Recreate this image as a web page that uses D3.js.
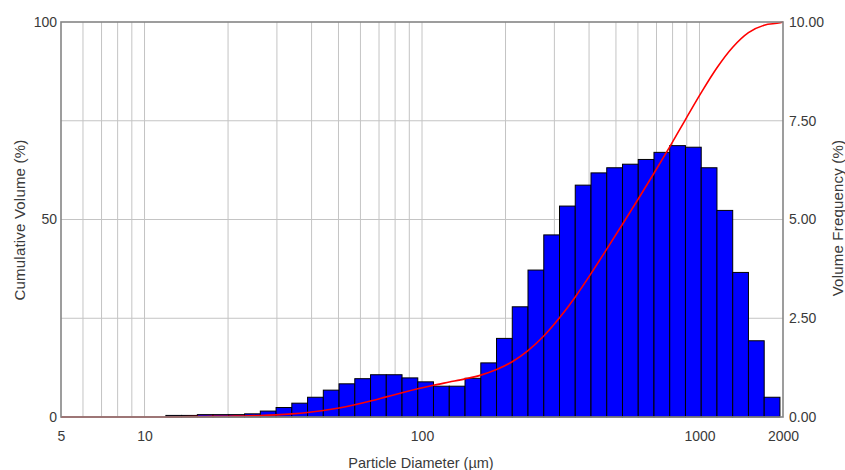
<!DOCTYPE html>
<html>
<head>
<meta charset="utf-8">
<script src="https://cdn.jsdelivr.net/npm/d3@7"></script>
<style>
  html, body { margin: 0; padding: 0; background: #fff; }
  svg { display: block; font-family: Arial, "Liberation Sans", sans-serif; }
</style>
</head>
<body>
<svg id="chart" width="845" height="470"></svg>
<script>
// ---- Data ----
// Channel edges, particle diameter in µm (40 edges -> 39 channels)
const binEdges = [11.94, 13.60, 15.50, 17.66, 20.13, 22.94, 26.14, 29.79, 33.95, 38.69,
  44.09, 50.24, 57.25, 65.24, 74.35, 84.73, 96.56, 110.0, 125.4, 142.9,
  162.9, 185.6, 211.5, 241.0, 274.7, 313.0, 356.7, 406.5, 463.2, 527.9,
  601.6, 685.5, 781.2, 890.3, 1014.6, 1156.2, 1317.6, 1501.5, 1711.1, 1950];
// Volume frequency (%) per channel
const volumeFrequency = [0.04, 0.04, 0.06, 0.06, 0.06, 0.08, 0.15, 0.24, 0.35, 0.50,
  0.68, 0.84, 0.97, 1.07, 1.07, 0.99, 0.89, 0.78, 0.78, 0.98,
  1.37, 1.99, 2.79, 3.72, 4.61, 5.34, 5.87, 6.18, 6.31, 6.40,
  6.52, 6.70, 6.87, 6.83, 6.31, 5.23, 3.66, 1.93, 0.50];
// Cumulative volume curve (%)
const cumDiameter = [5, 11.94, 13.60, 15.50, 17.66, 20.13, 22.94, 26.14, 29.79, 33.95, 38.69,
  44.09, 50.24, 57.25, 65.24, 74.35, 84.73, 96.56, 110.0, 125.4, 142.9,
  162.9, 185.6, 211.5, 241.0, 274.7, 313.0, 356.7, 406.5, 463.2, 527.9,
  601.6, 685.5, 781.2, 890.3, 1014.6, 1156.2, 1317.6, 1501.5, 1711.1, 1950, 2000];
const cumPercent = [0, 0, 0.05, 0.10, 0.15, 0.20, 0.27, 0.38, 0.55, 0.80, 1.15,
  1.65, 2.30, 3.10, 4.05, 5.10, 6.15, 7.15, 8.05, 8.85, 9.65,
  10.6, 12.0, 14.0, 16.8, 20.5, 25.1, 30.4, 36.3, 42.5, 48.8,
  55.2, 61.7, 68.4, 75.3, 82.1, 88.4, 93.6, 97.3, 99.2, 99.8, 100];

const xTickValues = [5, 10, 100, 1000, 2000];
const xGridValues = [6, 7, 8, 9, 10, 20, 30, 40, 50, 60, 70, 80, 90,
  100, 200, 300, 400, 500, 600, 700, 800, 900, 1000];
const leftTickValues = [0, 50, 100];
const leftGridValues = [25, 50, 75];
const rightTickValues = [0, 2.5, 5, 7.5, 10];

const xTitle = "Particle Diameter (µm)";
const leftTitle = "Cumulative Volume (%)";
const rightTitle = "Volume Frequency (%)";

// ---- Layout ----
const L = 61, R = 783, T = 22, B = 417;
const svg = d3.select("#chart");
const textColor = "#3a3a3a";

const x = d3.scaleLog().domain([5, 2000]).range([L, R]);
const yLeft = d3.scaleLinear().domain([0, 100]).range([B, T]);
const yRight = d3.scaleLinear().domain([0, 10]).range([B, T]);

// gridlines
const grid = svg.append("g");
grid.selectAll("line.v").data(xGridValues).join("line")
  .attr("x1", d => x(d)).attr("x2", d => x(d))
  .attr("y1", T).attr("y2", B)
  .attr("stroke", "#c4c4c4").attr("stroke-width", 1);
grid.selectAll("line.h").data(leftGridValues).join("line")
  .attr("x1", L).attr("x2", R)
  .attr("y1", d => yLeft(d)).attr("y2", d => yLeft(d))
  .attr("stroke", "#c4c4c4").attr("stroke-width", 1);

// bars
const bars = volumeFrequency.map((v, i) => ({ lo: binEdges[i], hi: binEdges[i + 1], v }));
svg.append("g").selectAll("rect").data(bars).join("rect")
  .attr("x", d => x(d.lo))
  .attr("width", d => x(d.hi) - x(d.lo))
  .attr("y", d => yRight(d.v))
  .attr("height", d => yRight(0) - yRight(d.v))
  .attr("fill", "#0000ff")
  .attr("stroke", "#000")
  .attr("stroke-width", 1);

// cumulative curve
const cum = cumDiameter.map((d, i) => [d, cumPercent[i]]);
svg.append("path")
  .datum(cum)
  .attr("fill", "none")
  .attr("stroke", "#ff0000")
  .attr("stroke-width", 1.6)
  .attr("d", d3.line().x(d => x(d[0])).y(d => yLeft(d[1])).curve(d3.curveMonotoneX));

// frame
svg.append("rect")
  .attr("x", L).attr("y", T).attr("width", R - L).attr("height", B - T)
  .attr("fill", "none").attr("stroke", "#858585").attr("stroke-width", 1.6);

// axes (labels only, no tick marks)
const axB = svg.append("g").attr("transform", `translate(0,${B})`)
  .call(d3.axisBottom(x).tickValues(xTickValues).tickFormat(d3.format("d")).tickSize(0).tickPadding(14));
const axL = svg.append("g").attr("transform", `translate(${L},0)`)
  .call(d3.axisLeft(yLeft).tickValues(leftTickValues).tickFormat(d3.format("d")).tickSize(0).tickPadding(4));
const axR = svg.append("g").attr("transform", `translate(${R},0)`)
  .call(d3.axisRight(yRight).tickValues(rightTickValues).tickFormat(d3.format(".2f")).tickSize(0).tickPadding(6));
[axB, axL, axR].forEach(a => {
  a.select(".domain").remove();
  a.selectAll("text").attr("fill", textColor).style("font-size", "14px")
    .style("font-family", "Arial, 'Liberation Sans', sans-serif");
});

// titles
svg.append("text")
  .attr("x", 421).attr("y", 468)
  .attr("text-anchor", "middle")
  .attr("fill", textColor).style("font-size", "14.5px")
  .text(xTitle);
svg.append("text")
  .attr("transform", `translate(25,220) rotate(-90)`)
  .attr("text-anchor", "middle")
  .attr("fill", textColor).style("font-size", "15px").style("letter-spacing", "0.2px")
  .text(leftTitle);
svg.append("text")
  .attr("transform", `translate(843,218) rotate(-90)`)
  .attr("text-anchor", "middle")
  .attr("fill", textColor).style("font-size", "15px").style("letter-spacing", "0.2px")
  .text(rightTitle);
</script>
</body>
</html>
